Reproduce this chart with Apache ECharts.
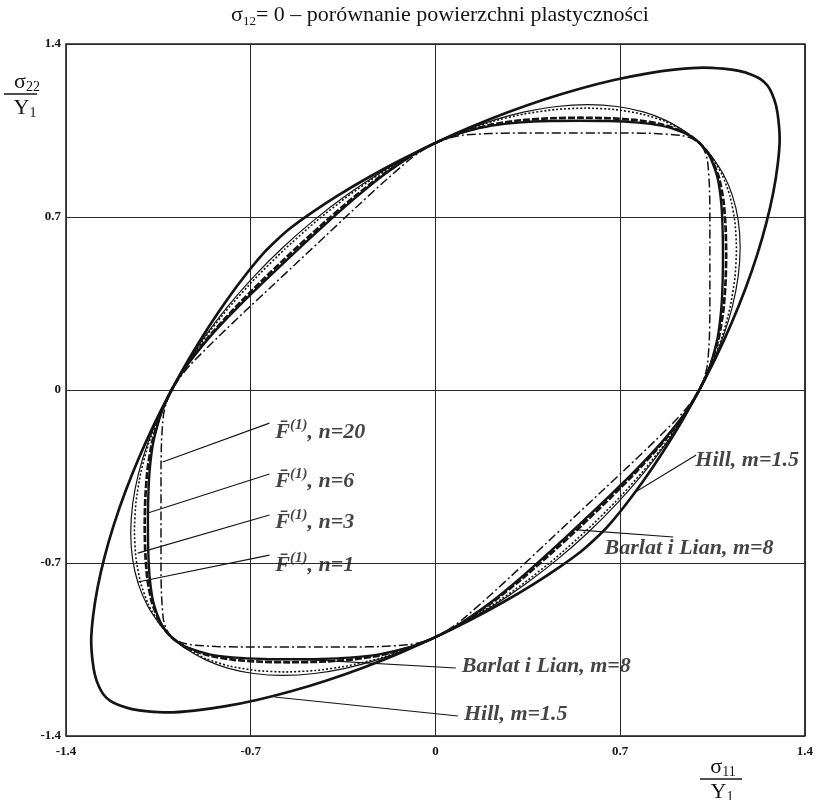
<!DOCTYPE html>
<html>
<head>
<meta charset="utf-8">
<script src="https://cdn.jsdelivr.net/npm/echarts@6/dist/echarts.min.js"></script>
<style>
  html, body { margin: 0; padding: 0; background: #ffffff; }
  #chart { width: 816px; height: 800px; }
</style>
</head>
<body>
<div id="chart"></div>
<script>
// Plane-stress yield loci (sigma12 = 0), stresses normalised by Y1.

// Hill, m = 1.5
const hillM15 = [
  [1,0],[1.0647,0.1362],[1.1235,0.2744],[1.1753,0.4121],[1.2191,0.5471],[1.2543,0.677],[1.2804,0.7997],[1.2971,0.913],
  [1.3045,1.0147],[1.300,1.090],[1.291,1.150],[1.276,1.198],[1.258,1.232],[1.232,1.258],[1.198,1.276],[1.150,1.291],[1.090,1.300],[1.0147,1.3045],
  [0.913,1.2971],[0.7997,1.2804],[0.677,1.2543],[0.5471,1.2191],[0.4121,1.1753],[0.2744,1.1235],[0.1362,1.0647],[0,1],
  [-0.1317,0.9308],[-0.2561,0.8589],[-0.3705,0.7862],[-0.4714,0.7155],[-0.5539,0.6513],[-0.604,0.604],
  [-0.6513,0.5539],[-0.7155,0.4714],[-0.7862,0.3705],[-0.8589,0.2561],[-0.9308,0.1317],[-1,0],
  [-1.0647,-0.1362],[-1.1235,-0.2744],[-1.1753,-0.4121],[-1.2191,-0.5471],[-1.2543,-0.677],[-1.2804,-0.7997],[-1.2971,-0.913],
  [-1.3045,-1.0147],[-1.300,-1.090],[-1.291,-1.150],[-1.276,-1.198],[-1.258,-1.232],[-1.232,-1.258],[-1.198,-1.276],[-1.150,-1.291],[-1.090,-1.300],[-1.0147,-1.3045],
  [-0.913,-1.2971],[-0.7997,-1.2804],[-0.677,-1.2543],[-0.5471,-1.2191],[-0.4121,-1.1753],[-0.2744,-1.1235],[-0.1362,-1.0647],[0,-1],
  [0.1317,-0.9308],[0.2561,-0.8589],[0.3705,-0.7862],[0.4714,-0.7155],[0.5539,-0.6513],[0.604,-0.604],
  [0.6513,-0.5539],[0.7155,-0.4714],[0.7862,-0.3705],[0.8589,-0.2561],[0.9308,-0.1317],[1,0]
];

// Barlat i Lian, m = 8
const barlatM8 = [
  [1,0],[1.0233,0.0512],[1.0428,0.1043],[1.0696,0.2139],[1.0829,0.3249],[1.0882,0.4353],[1.0895,0.5448],[1.0882,0.6529],[1.0829,0.758],[1.0696,0.8557],[1.0428,0.9385],[1.0233,0.9721],[1,1],
  [0.9721,1.0233],[0.9385,1.0428],[0.8557,1.0696],[0.758,1.0829],[0.6529,1.0882],[0.5448,1.0895],[0.4353,1.0882],[0.3249,1.0829],[0.2139,1.0696],[0.1043,1.0428],[0.0512,1.0233],[0,1],
  [-0.0512,0.9721],[-0.1043,0.9385],[-0.2139,0.8557],[-0.3249,0.758],[-0.4353,0.6529],[-0.5448,0.5448],[-0.6529,0.4353],[-0.758,0.3249],[-0.8557,0.2139],[-0.9385,0.1043],[-0.9721,0.0512],[-1,0],
  [-1.0233,-0.0512],[-1.0428,-0.1043],[-1.0696,-0.2139],[-1.0829,-0.3249],[-1.0882,-0.4353],[-1.0895,-0.5448],[-1.0882,-0.6529],[-1.0829,-0.758],[-1.0696,-0.8557],[-1.0428,-0.9385],[-1.0233,-0.9721],[-1,-1],
  [-0.9721,-1.0233],[-0.9385,-1.0428],[-0.8557,-1.0696],[-0.758,-1.0829],[-0.6529,-1.0882],[-0.5448,-1.0895],[-0.4353,-1.0882],[-0.3249,-1.0829],[-0.2139,-1.0696],[-0.1043,-1.0428],[-0.0512,-1.0233],[0,-1],
  [0.0512,-0.9721],[0.1043,-0.9385],[0.2139,-0.8557],[0.3249,-0.758],[0.4353,-0.6529],[0.5448,-0.5448],[0.6529,-0.4353],[0.758,-0.3249],[0.8557,-0.2139],[0.9385,-0.1043],[0.9721,-0.0512],[1,0]
];

// F(1), n = 1
const fN1 = [
  [1,0],[1.0246,0.0512],[1.0483,0.1048],[1.0911,0.2182],[1.1251,0.3375],[1.1471,0.4588],[1.1547,0.5774],[1.1471,0.6883],[1.1251,0.7876],[1.0911,0.8729],[1.0483,0.9435],[1.0246,0.9734],[1,1],
  [0.9734,1.0246],[0.9435,1.0483],[0.8729,1.0911],[0.7876,1.1251],[0.6883,1.1471],[0.5774,1.1547],[0.4588,1.1471],[0.3375,1.1251],[0.2182,1.0911],[0.1048,1.0483],[0.0512,1.0246],[0,1],
  [-0.0512,0.9734],[-0.1048,0.9435],[-0.2182,0.8729],[-0.3375,0.7876],[-0.4588,0.6883],[-0.5774,0.5774],[-0.6883,0.4588],[-0.7876,0.3375],[-0.8729,0.2182],[-0.9435,0.1048],[-0.9734,0.0512],[-1,0],
  [-1.0246,-0.0512],[-1.0483,-0.1048],[-1.0911,-0.2182],[-1.1251,-0.3375],[-1.1471,-0.4588],[-1.1547,-0.5774],[-1.1471,-0.6883],[-1.1251,-0.7876],[-1.0911,-0.8729],[-1.0483,-0.9435],[-1.0246,-0.9734],[-1,-1],
  [-0.9734,-1.0246],[-0.9435,-1.0483],[-0.8729,-1.0911],[-0.7876,-1.1251],[-0.6883,-1.1471],[-0.5774,-1.1547],[-0.4588,-1.1471],[-0.3375,-1.1251],[-0.2182,-1.0911],[-0.1048,-1.0483],[-0.0512,-1.0246],[0,-1],
  [0.0512,-0.9734],[0.1048,-0.9435],[0.2182,-0.8729],[0.3375,-0.7876],[0.4588,-0.6883],[0.5774,-0.5774],[0.6883,-0.4588],[0.7876,-0.3375],[0.8729,-0.2182],[0.9435,-0.1048],[0.9734,-0.0512],[1,0]
];

// F(1), n = 3
const fN3 = [
  [1,0],[1.0244,0.0512],[1.0473,0.1047],[1.0871,0.2174],[1.1167,0.335],[1.1348,0.4539],[1.1408,0.5704],[1.1348,0.6809],[1.1167,0.7817],[1.0871,0.8697],[1.0473,0.9426],[1.0244,0.9732],[1,1],
  [0.9732,1.0244],[0.9426,1.0473],[0.8697,1.0871],[0.7817,1.1167],[0.6809,1.1348],[0.5704,1.1408],[0.4539,1.1348],[0.335,1.1167],[0.2174,1.0871],[0.1047,1.0473],[0.0512,1.0244],[0,1],
  [-0.0512,0.9732],[-0.1047,0.9426],[-0.2174,0.8697],[-0.335,0.7817],[-0.4539,0.6809],[-0.5704,0.5704],[-0.6809,0.4539],[-0.7817,0.335],[-0.8697,0.2174],[-0.9426,0.1047],[-0.9732,0.0512],[-1,0],
  [-1.0244,-0.0512],[-1.0473,-0.1047],[-1.0871,-0.2174],[-1.1167,-0.335],[-1.1348,-0.4539],[-1.1408,-0.5704],[-1.1348,-0.6809],[-1.1167,-0.7817],[-1.0871,-0.8697],[-1.0473,-0.9426],[-1.0244,-0.9732],[-1,-1],
  [-0.9732,-1.0244],[-0.9426,-1.0473],[-0.8697,-1.0871],[-0.7817,-1.1167],[-0.6809,-1.1348],[-0.5704,-1.1408],[-0.4539,-1.1348],[-0.335,-1.1167],[-0.2174,-1.0871],[-0.1047,-1.0473],[-0.0512,-1.0244],[0,-1],
  [0.0512,-0.9732],[0.1047,-0.9426],[0.2174,-0.8697],[0.335,-0.7817],[0.4539,-0.6809],[0.5704,-0.5704],[0.6809,-0.4539],[0.7817,-0.335],[0.8697,-0.2174],[0.9426,-0.1047],[0.9732,-0.0512],[1,0]
];

// F(1), n = 6
const fN6 = [
  [1,0],[1.0236,0.0512],[1.0441,0.1044],[1.0745,0.2149],[1.0917,0.3275],[1.0995,0.4398],[1.1017,0.5509],[1.0995,0.6597],[1.0917,0.7642],[1.0745,0.8596],[1.0441,0.9397],[1.0236,0.9724],[1,1],
  [0.9724,1.0236],[0.9397,1.0441],[0.8596,1.0745],[0.7642,1.0917],[0.6597,1.0995],[0.5509,1.1017],[0.4398,1.0995],[0.3275,1.0917],[0.2149,1.0745],[0.1044,1.0441],[0.0512,1.0236],[0,1],
  [-0.0512,0.9724],[-0.1044,0.9397],[-0.2149,0.8596],[-0.3275,0.7642],[-0.4398,0.6597],[-0.5509,0.5509],[-0.6597,0.4398],[-0.7642,0.3275],[-0.8596,0.2149],[-0.9397,0.1044],[-0.9724,0.0512],[-1,0],
  [-1.0236,-0.0512],[-1.0441,-0.1044],[-1.0745,-0.2149],[-1.0917,-0.3275],[-1.0995,-0.4398],[-1.1017,-0.5509],[-1.0995,-0.6597],[-1.0917,-0.7642],[-1.0745,-0.8596],[-1.0441,-0.9397],[-1.0236,-0.9724],[-1,-1],
  [-0.9724,-1.0236],[-0.9397,-1.0441],[-0.8596,-1.0745],[-0.7642,-1.0917],[-0.6597,-1.0995],[-0.5509,-1.1017],[-0.4398,-1.0995],[-0.3275,-1.0917],[-0.2149,-1.0745],[-0.1044,-1.0441],[-0.0512,-1.0236],[0,-1],
  [0.0512,-0.9724],[0.1044,-0.9397],[0.2149,-0.8596],[0.3275,-0.7642],[0.4398,-0.6597],[0.5509,-0.5509],[0.6597,-0.4398],[0.7642,-0.3275],[0.8596,-0.2149],[0.9397,-0.1044],[0.9724,-0.0512],[1,0]
];

// F(1), n = 20
const fN20 = [
  [1,0],[1.0195,0.051],[1.031,0.1031],[1.038,0.2076],[1.04,0.312],[1.04,0.416],[1.04,0.52],[1.04,0.624],[1.04,0.728],[1.038,0.8304],[1.031,0.9279],[1.0195,0.9685],[1,1],
  [0.9685,1.0195],[0.9279,1.031],[0.8304,1.038],[0.728,1.04],[0.624,1.04],[0.52,1.04],[0.416,1.04],[0.312,1.04],[0.2076,1.038],[0.1031,1.031],[0.051,1.0195],[0,1],
  [-0.051,0.9685],[-0.1031,0.9279],[-0.2076,0.8304],[-0.312,0.728],[-0.416,0.624],[-0.52,0.52],[-0.624,0.416],[-0.728,0.312],[-0.8304,0.2076],[-0.9279,0.1031],[-0.9685,0.051],[-1,0],
  [-1.0195,-0.051],[-1.031,-0.1031],[-1.038,-0.2076],[-1.04,-0.312],[-1.04,-0.416],[-1.04,-0.52],[-1.04,-0.624],[-1.04,-0.728],[-1.038,-0.8304],[-1.031,-0.9279],[-1.0195,-0.9685],[-1,-1],
  [-0.9685,-1.0195],[-0.9279,-1.031],[-0.8304,-1.038],[-0.728,-1.04],[-0.624,-1.04],[-0.52,-1.04],[-0.416,-1.04],[-0.312,-1.04],[-0.2076,-1.038],[-0.1031,-1.031],[-0.051,-1.0195],[0,-1],
  [0.051,-0.9685],[0.1031,-0.9279],[0.2076,-0.8304],[0.312,-0.728],[0.416,-0.624],[0.52,-0.52],[0.624,-0.416],[0.728,-0.312],[0.8304,-0.2076],[0.9279,-0.1031],[0.9685,-0.051],[1,0]
];

// Callout texts and their leader lines (text anchor, leader start, leader end on the curve)
const calloutNames = ['n=20', 'n=6', 'n=3', 'n=1', 'hillR', 'barlatR', 'barlatB', 'hillB'];
const calloutAnchors = [[-0.607,-0.170],[-0.607,-0.368],[-0.607,-0.534],[-0.607,-0.708],[0.985,-0.283],[0.641,-0.639],[0.100,-1.117],[0.108,-1.311]];
const leaderFrom = [[-0.629,-0.134],[-0.629,-0.340],[-0.629,-0.506],[-0.629,-0.668],[0.988,-0.263],[0.901,-0.595],[0.077,-1.125],[0.085,-1.319]];
const leaderTo   = [[-1.034,-0.291],[-1.090,-0.498],[-1.128,-0.660],[-1.128,-0.777],[0.758,-0.413],[0.523,-0.565],[-0.516,-1.089],[-0.610,-1.242]];

const axisMin = -1.4, axisMax = 1.4, axisStep = 0.7;

const SERIF = "'Liberation Serif', 'Times New Roman', serif";
const INK = '#141414';

const calloutRich = {
  f:   { fontFamily: SERIF, fontStyle: 'italic', fontWeight: 'bold', fontSize: 22, lineHeight: 28, color: INK },
  sup: { fontFamily: SERIF, fontStyle: 'italic', fontWeight: 'bold', fontSize: 15, lineHeight: 15, verticalAlign: 'top', color: INK },
  t:   { fontFamily: SERIF, fontStyle: 'italic', fontWeight: 'bold', fontSize: 22, lineHeight: 28, color: INK }
};
const calloutText = {
  'n=20': '{f|F\u0304}{sup|(1)}{t|, n=20}',
  'n=6': '{f|F\u0304}{sup|(1)}{t|, n=6}',
  'n=3': '{f|F\u0304}{sup|(1)}{t|, n=3}',
  'n=1': '{f|F\u0304}{sup|(1)}{t|, n=1}',
  'hillR': '{t|Hill, m=1.5}',
  'barlatR': '{t|Barlat i Lian, m=8}',
  'barlatB': '{t|Barlat i Lian, m=8}',
  'hillB': '{t|Hill, m=1.5}'
};

function curve(name, data, lineStyle) {
  return {
    name, type: 'line', data, showSymbol: false, smooth: 0.2, silent: true,
    lineStyle: Object.assign({ color: INK }, lineStyle), z: 3
  };
}

const chart = echarts.init(document.getElementById('chart'), null, { renderer: 'canvas' });

const axisCommon = {
  type: 'value', min: axisMin, max: axisMax, interval: axisStep,
  axisLine: { show: false }, axisTick: { show: false },
  splitLine: { show: true, lineStyle: { color: '#2a2a2a', width: 1 } },
  axisLabel: { fontFamily: SERIF, fontWeight: 'bold', fontSize: 13, color: INK }
};

function axisName(x, y, main, sub) {
  return {
    type: 'text', x, y, silent: true,
    style: {
      text: '{s|' + main + '}{sub|' + sub + '}', align: 'center', verticalAlign: 'middle',
      rich: {
        s: { fontFamily: SERIF, fontSize: 22, lineHeight: 24, fill: INK },
        sub: { fontFamily: SERIF, fontSize: 14, lineHeight: 14, verticalAlign: 'bottom', fill: INK }
      }
    }
  };
}

chart.setOption({
  animation: false,
  backgroundColor: '#ffffff',
  grid: { left: 66, right: 9, top: 44, bottom: 64, show: true, borderColor: '#1e1e1e', borderWidth: 1.5, containLabel: false },
  xAxis: Object.assign({}, axisCommon, { axisLabel: Object.assign({}, axisCommon.axisLabel, { margin: 9 }) }),
  yAxis: Object.assign({}, axisCommon, { axisLabel: Object.assign({}, axisCommon.axisLabel, { margin: 5 }) }),
  series: [
    curve('Hill, m=1.5', hillM15, { width: 2.7, type: 'solid' }),
    curve('Barlat i Lian, m=8', barlatM8, { width: 2.4, type: 'solid' }),
    curve('F(1), n=1', fN1, { width: 1.2, type: 'solid' }),
    curve('F(1), n=3', fN3, { width: 1.6, type: [2, 2] }),
    curve('F(1), n=6', fN6, { width: 2.7, type: [7, 2] }),
    curve('F(1), n=20', fN20, { width: 1.5, type: [9, 3, 2, 3] }),
    {
      name: 'callouts', type: 'scatter', symbolSize: 0, silent: true, z: 5,
      data: calloutNames.map((k, i) => ({ value: calloutAnchors[i], name: k })),
      label: {
        show: true, position: 'right', distance: 0,
        formatter: p => calloutText[p.name], rich: calloutRich
      },
      markLine: {
        silent: true, symbol: ['none', 'arrow'], symbolSize: [0, 8],
        label: { show: false },
        lineStyle: { color: INK, width: 1.1, type: 'solid' },
        emphasis: { disabled: true },
        data: leaderFrom.map((p, i) => [{ coord: p }, { coord: leaderTo[i] }])
      }
    }
  ],
  graphic: [
    {
      type: 'text', x: 440, y: 15, silent: true,
      style: {
        text: '{s|σ}{sub|12}{s|= 0 – porównanie powierzchni plastyczności}',
        align: 'center', verticalAlign: 'middle',
        rich: {
          s: { fontFamily: SERIF, fontSize: 22, lineHeight: 26, fill: INK },
          sub: { fontFamily: SERIF, fontSize: 13, lineHeight: 13, verticalAlign: 'bottom', fill: INK }
        }
      }
    },
    // vertical axis name: sigma22 over Y1
    axisName(27, 82, 'σ', '22'),
    { type: 'line', silent: true, shape: { x1: 4, y1: 94, x2: 37, y2: 94 }, style: { stroke: INK, lineWidth: 1.3 } },
    axisName(25, 108, 'Y', '1'),
    // horizontal axis name: sigma11 over Y1
    axisName(723, 767, 'σ', '11'),
    { type: 'line', silent: true, shape: { x1: 700, y1: 779, x2: 742, y2: 779 }, style: { stroke: INK, lineWidth: 1.3 } },
    axisName(722, 792, 'Y', '1')
  ]
});
</script>
</body>
</html>
